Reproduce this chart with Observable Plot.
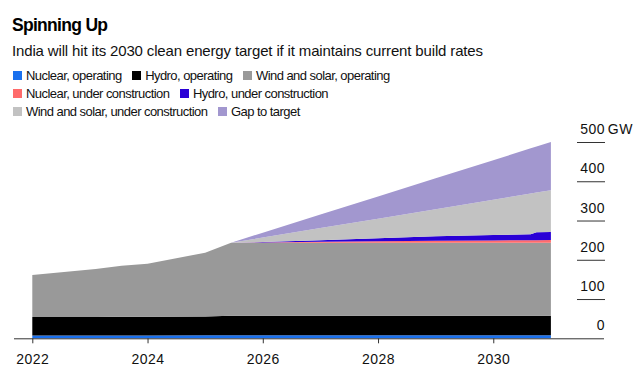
<!DOCTYPE html>
<html>
<head>
<meta charset="utf-8">
<script src="https://cdn.jsdelivr.net/npm/d3@7"></script>
<script src="https://cdn.jsdelivr.net/npm/@observablehq/plot@0.6"></script>
<style>
  html, body { margin: 0; padding: 0; background: #fff; }
  body { font-family: "Liberation Sans", Arial, sans-serif; color: #000; }
  #wrap { position: relative; width: 637px; height: 384px; overflow: hidden; }
  #head { position: relative; height: 120px; }
  .title { position: absolute; left: 12px; top: 16.9px; font-weight: bold; font-size: 17.5px; line-height: 17.5px; letter-spacing: -0.7px; white-space: nowrap; }
  .subtitle { position: absolute; left: 12px; top: 43.3px; font-size: 15px; line-height: 15px; letter-spacing: -0.15px; white-space: nowrap; color: #111; }
  .lrow { position: absolute; left: 13px; display: flex; align-items: center; font-size: 13px; line-height: 13px; letter-spacing: -0.55px; white-space: nowrap; color: #111; }
  .item { display: flex; align-items: center; margin-right: 10.5px; }
  .sw { width: 9px; height: 9px; margin-right: 4px; flex: none; }
  #chart svg { display: block; }
</style>
</head>
<body>
<div id="wrap">
  <div id="head">
    <div class="title" id="title"></div>
    <div class="subtitle" id="subtitle"></div>
    <div id="legend"></div>
  </div>
  <div id="chart"></div>
</div>
<script>
const titleText = "Spinning Up";
const subtitleText = "India will hit its 2030 clean energy target if it maintains current build rates";
const unitLabel = "GW";

const years = [2022, 2023.1, 2023.55, 2024, 2025, 2025.45, 2026, 2027, 2028, 2029, 2030, 2030.65, 2030.75, 2031];
const nuclearOperating = [7, 7, 7, 7, 7.5, 8, 8, 8, 8, 8, 8, 8, 8, 8];
const hydroOperating = [47.5, 47.5, 48, 48, 48, 49.5, 49.5, 49.5, 49.5, 49.5, 49.5, 49.5, 49.5, 49.5];
const windSolarOperating = [106.5, 122, 130, 135, 162.5, 186, 186, 186, 186, 186, 186, 186, 186, 186];
const nuclearUnderConstruction = [0, 0, 0, 0, 0, 0, 0.8, 2.2, 3.5, 4.7, 5.7, 6.3, 6.4, 6.6];
const hydroUnderConstruction = [0, 0, 0, 0, 0, 0, 1, 4, 8, 12, 14, 15, 20, 20.5];
const windSolarUnderConstruction = [0, 0, 0, 0, 0, 0, 11.4, 31.1, 49.8, 68.8, 89.9, 103.9, 101.2, 106.5];
const gapToTarget = [0, 0, 0, 0, 0, 0, 12.2, 34.3, 56.4, 78.7, 100.7, 115.1, 117.4, 122.9];

const seriesNames = [
  "Nuclear, operating", "Hydro, operating", "Wind and solar, operating",
  "Nuclear, under construction", "Hydro, under construction",
  "Wind and solar, under construction", "Gap to target"
];
const seriesColors = ["#1a70ee", "#000000", "#999999", "#ff6b6b", "#2a00d6", "#c2c2c2", "#a297cf"];
const seriesValues = [nuclearOperating, hydroOperating, windSolarOperating, nuclearUnderConstruction, hydroUnderConstruction, windSolarUnderConstruction, gapToTarget];
const legendRows = [[0, 1, 2], [3, 4], [5, 6]];

const xTicks = [2022, 2024, 2026, 2028, 2030];
const yTicks = [0, 100, 200, 300, 400, 500];
const yTickLines = [100, 200, 300, 400, 500];

document.getElementById("title").textContent = titleText;
document.getElementById("subtitle").textContent = subtitleText;

const legend = document.getElementById("legend");
const rowTops = [69, 86.7, 104.5];
legendRows.forEach((row, r) => {
  const div = document.createElement("div");
  div.className = "lrow";
  div.style.top = rowTops[r] + "px";
  row.forEach(i => {
    const it = document.createElement("div");
    it.className = "item";
    const sw = document.createElement("span");
    sw.className = "sw";
    sw.style.background = seriesColors[i];
    const tx = document.createElement("span");
    tx.textContent = seriesNames[i];
    it.appendChild(sw); it.appendChild(tx);
    div.appendChild(it);
  });
  legend.appendChild(div);
});

const data = seriesNames.flatMap((name, s) => years.map((year, i) => ({series: name, year, value: seriesValues[s][i]})));

const chart = Plot.plot({
  width: 637,
  height: 264,
  marginTop: 22,
  marginBottom: 45.7,
  marginLeft: 32.3,
  marginRight: 86.1,
  x: {domain: [2022, 2031]},
  y: {domain: [0, 500]},
  color: {domain: seriesNames, range: seriesColors},
  style: {fontFamily: "Liberation Sans, Arial, sans-serif", fontSize: "14px", letterSpacing: "0.5px", color: "#111", background: "#fff", overflow: "visible"},
  marks: [
    Plot.areaY(data, {x: "year", y: "value", z: "series", fill: "series", order: seriesNames, curve: "linear"}),
    Plot.ruleY([0], {stroke: "#333", insetLeft: -18.3, insetRight: -53.1}),
    Plot.axisX({ticks: xTicks, tickSize: 5, tickPadding: 10, tickFormat: d => String(d), stroke: "#333", label: null}),
    Plot.axisY({anchor: "right", ticks: yTickLines, tickSize: 28, dx: 25.1, tickFormat: () => "", stroke: "#333", label: null}),
    Plot.axisY({anchor: "right", ticks: yTicks, tickSize: 0, tickPadding: 0, dx: 53.6, dy: -13, textAnchor: "end", label: null}),
    Plot.text([500], {y: d => d, text: () => unitLabel, frameAnchor: "right", dx: 56.4, dy: -13, textAnchor: "start", fill: "#111"})
  ]
});
document.getElementById("chart").appendChild(chart);
</script>
</body>
</html>
